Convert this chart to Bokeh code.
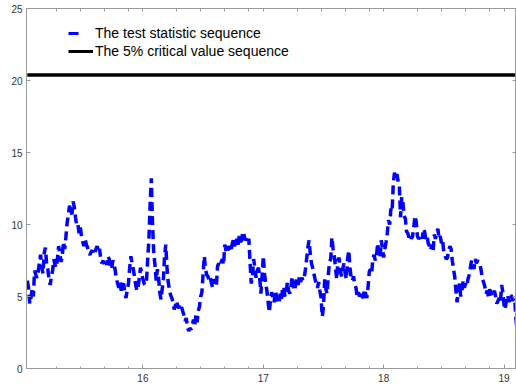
import numpy as np
from bokeh.plotting import figure
from bokeh.models import LinearAxis, Range1d, Legend, LegendItem, FixedTicker
from bokeh.embed import file_html
from bokeh.resources import INLINE

# ---- data -------------------------------------------------------------
t_start = 15.04
t_step = 0.01
test_stat = [
    6.1, 5.6, 4.5, 4.9, 5.5, 5.0, 6.8, 6.5, 6.3, 6.7, 7.4, 7.9, 7.0, 6.6, 8.0, 8.4, 7.3, 6.9, 6.2, 5.8,
    6.4, 6.8, 7.6, 7.2, 7.0, 7.6, 8.5, 8.0, 7.4, 7.8, 8.8, 8.3, 9.1, 10.1, 10.6, 11.3, 11.0, 10.7, 11.6, 11.2,
    10.5, 9.9, 10.0, 9.4, 9.8, 9.2, 8.8, 8.5, 9.0, 8.6, 8.4, 8.0, 7.9, 8.1, 8.2, 7.9, 8.0, 8.3, 8.5, 8.1,
    8.3, 7.6, 7.3, 7.5, 7.1, 7.4, 7.2, 7.8, 7.6, 7.0, 6.9, 7.5, 7.3, 6.8, 6.2, 5.9, 5.6, 6.0, 5.4, 5.8,
    5.9, 5.2, 4.9, 5.5, 5.9, 7.0, 7.8, 7.3, 6.9, 6.4, 5.8, 5.4, 5.6, 6.3, 7.0, 6.6, 6.2, 5.9, 5.8, 6.1,
    7.6, 9.0, 11.4, 13.2, 10.0, 8.0, 7.2, 6.1, 6.9, 6.3, 5.3, 4.8, 5.5, 6.2, 7.8, 8.6, 7.0, 6.0, 5.5, 5.1,
    4.9, 4.6, 4.1, 4.4, 4.7, 4.3, 4.2, 4.5, 4.3, 4.0, 3.7, 3.3, 3.5, 2.9, 2.6, 2.8, 2.7, 3.0, 3.4, 2.9,
    3.7, 3.2, 4.0, 4.3, 5.0, 5.3, 6.6, 7.8, 6.9, 6.5, 6.4, 6.1, 6.3, 5.9, 5.6, 6.2, 6.0, 5.7, 7.1, 7.3,
    7.1, 7.4, 7.6, 7.2, 8.6, 8.2, 8.0, 8.5, 8.3, 8.1, 8.6, 8.9, 8.5, 8.7, 9.0, 8.6, 9.2, 8.8, 8.9, 9.5,
    9.3, 8.9, 9.1, 8.8, 9.0, 7.4, 5.9, 6.4, 7.6, 7.0, 6.3, 6.8, 7.0, 6.3, 5.2, 6.4, 7.8, 6.6, 5.9, 5.4,
    4.6, 3.9, 4.8, 5.3, 4.9, 4.6, 5.4, 5.0, 4.7, 4.5, 5.2, 4.8, 5.5, 5.7, 5.0, 5.3, 6.0, 5.4, 5.2, 5.7,
    6.4, 5.8, 5.4, 5.9, 6.2, 5.8, 6.4, 6.0, 6.3, 6.1, 6.3, 6.9, 7.6, 8.4, 8.9, 8.0, 7.3, 7.0, 6.6, 6.2,
    5.9, 5.6, 6.0, 5.4, 4.9, 3.6, 4.3, 6.2, 5.5, 5.2, 6.5, 7.4, 7.6, 9.1, 8.3, 7.8, 7.0, 6.2, 7.5, 7.7,
    6.8, 6.4, 6.9, 7.3, 6.6, 6.2, 7.6, 8.2, 7.0, 6.3, 6.1, 6.4, 5.8, 5.6, 5.0, 5.3, 5.0, 5.3, 5.0, 4.9,
    5.5, 5.2, 4.9, 5.6, 6.7, 6.9, 6.6, 7.6, 7.9, 7.5, 7.8, 8.7, 8.0, 7.7, 8.9, 8.3, 7.7, 8.3, 8.8, 9.4,
    10.3, 10.0, 11.1, 10.9, 12.9, 13.6, 13.3, 13.5, 13.0, 12.7, 10.5, 11.9, 11.5, 10.6, 10.4, 9.5, 9.4, 9.1, 9.3, 9.0,
    9.2, 9.8, 10.6, 10.2, 9.2, 9.0, 9.1, 9.3, 9.0, 9.7, 9.5, 9.0, 9.2, 8.7, 8.5, 8.2, 8.6, 8.1, 9.3, 9.0,
    9.4, 9.7, 9.0, 9.2, 8.7, 8.9, 8.0, 7.8, 7.6, 7.7, 8.2, 8.5, 8.3, 7.5, 6.9, 6.4, 5.4, 4.6, 5.5, 5.9,
    5.0, 5.4, 6.1, 5.6, 5.9, 5.7, 6.2, 6.5, 7.0, 7.5, 7.2, 6.9, 7.6, 7.3, 7.5, 7.4, 7.2, 6.8, 6.2, 6.0,
    5.7, 5.2, 5.4, 5.0, 5.5, 5.3, 5.0, 5.2, 5.4, 5.0, 4.5, 4.7, 4.9, 4.6, 5.8, 5.3, 4.4, 4.1, 4.9, 5.1,
    4.6, 5.0, 5.1, 4.7, 4.9, 4.6, 3.3, 2.6, 2.5, 2.2,
]
t = [round(t_start + i * t_step, 4) for i in range(len(test_stat))]
crit_value = 20.38
crit = [crit_value] * len(t)

x_major = [16, 17, 18, 19]
x_minor = [15.28, 15.48, 15.68, 15.88, 16.28, 16.48, 16.68, 16.88,
           17.28, 17.48, 17.68, 17.88, 18.28, 18.48, 18.68, 18.88]
y_major = [0, 5, 10, 15, 20, 25]

label_stat = "The test statistic sequence"
label_crit = "The 5% critical value sequence"

# ---- figure -----------------------------------------------------------
AX = "#9b9b9b"
TXT = "#333333"
FONT = "Liberation Sans"

p = figure(width=516, height=388, output_backend="svg", toolbar_location=None,
           x_range=Range1d(15.033, 19.095), y_range=Range1d(0, 25),
           min_border_left=26, min_border_right=1, min_border_top=8,
           min_border_bottom=20, x_axis_location="below", y_axis_location="left")
p.grid.visible = False
p.outline_line_color = None
p.background_fill_color = "white"
p.border_fill_color = "white"

p.line(t, crit, line_color="black", line_width=3.5)
p.line(t, test_stat, line_color="#0000ff", line_width=3.5, line_dash="9 5",
       line_cap="butt")


def style(ax):
    ax.axis_line_color = AX
    ax.major_tick_line_color = AX
    ax.minor_tick_line_color = AX
    ax.major_tick_in = 4
    ax.major_tick_out = 0
    ax.minor_tick_in = 2
    ax.minor_tick_out = 0
    ax.major_label_text_color = TXT
    ax.major_label_text_font = FONT
    ax.major_label_text_font_size = "10px"
    ax.major_label_standoff = 4


p.xaxis[0].ticker = FixedTicker(ticks=x_major, minor_ticks=x_minor)
p.yaxis[0].ticker = FixedTicker(ticks=y_major, minor_ticks=[])
style(p.xaxis[0])
style(p.yaxis[0])
p.xaxis[0].major_label_standoff = 5

# mirror axes on top / right: tick marks only (no labels)
top = LinearAxis(ticker=FixedTicker(ticks=[], minor_ticks=x_major + x_minor))
right = LinearAxis(ticker=FixedTicker(ticks=[], minor_ticks=y_major))
for ax in (top, right):
    style(ax)
    ax.minor_tick_in = 3
    ax.major_label_standoff = 0
p.add_layout(top, "above")
p.add_layout(right, "right")

# legend glyph proxies (a single missing value: nothing is plotted)
r_leg_stat = p.line([np.nan], [np.nan], line_color="#0000ff", line_width=3,
                    line_dash="10 20")
r_leg_crit = p.line([np.nan], [np.nan], line_color="black", line_width=3)

legend = Legend(items=[LegendItem(label=label_stat, renderers=[r_leg_stat]),
                       LegendItem(label=label_crit, renderers=[r_leg_crit])],
                location=(42, 309), orientation="vertical",
                glyph_width=25, glyph_height=16, label_height=16, spacing=2,
                label_standoff=2, padding=0, margin=0,
                label_text_font=FONT, label_text_font_size="14px",
                label_text_color="black",
                border_line_color=None, background_fill_alpha=0)
p.add_layout(legend, "center")

open("out.html", "w").write(file_html(p, INLINE))
